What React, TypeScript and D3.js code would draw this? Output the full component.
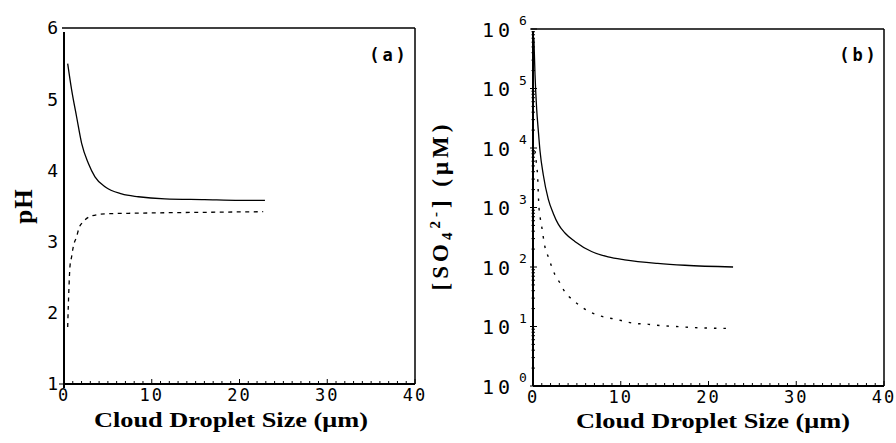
import React from 'react'
import * as d3 from 'd3'

// panel (a): pH vs droplet size
const sizeSolidA = [0.42, 0.87, 1.44, 2.01, 2.77, 3.53, 4.67, 6.57, 8.47, 11.5, 16, 20, 22.9]
const phSolidA = [5.5, 5.13, 4.75, 4.38, 4.1, 3.91, 3.77, 3.67, 3.63, 3.6, 3.59, 3.58, 3.58]
const sizeDashA = [0.42, 0.49, 0.57, 0.68, 0.87, 1.06, 1.44, 1.71, 2.2, 3.15, 4.67, 8.5, 15, 22.7]
const phDashA = [1.8, 2.09, 2.37, 2.65, 2.79, 2.93, 3.07, 3.19, 3.28, 3.36, 3.39, 3.4, 3.41, 3.42]

// panel (b): sulfate concentration (uM) vs droplet size
const sizeSolidB = [0.1, 0.23, 0.42, 0.6, 0.8, 1.17, 1.74, 2.31, 2.88, 3.64, 4.77, 6.67, 8.56, 10.45, 14.2, 17.3, 22.8]
const so4SolidB = [708000, 170000, 44700, 20000, 8900, 3550, 1380, 794, 525, 372, 269, 182, 148, 132, 115, 107, 100]
const sizeDashB = [0.23, 0.42, 0.53, 0.6, 0.68, 0.8, 0.99, 1.36, 1.74, 2.5, 3.07, 3.64, 4.4, 5.34, 6.28, 7.23, 8.37, 9.5, 10.6, 11.8, 12.9, 14.05, 16.3, 19, 22.1]
const so4DashB = [8900, 4900, 3300, 1780, 1000, 708, 479, 219, 148, 74, 54, 38, 29, 22.4, 18.2, 15.8, 14.1, 13.2, 12, 11.2, 11, 10.5, 10, 9.5, 9.3]

const xTicks = [0, 10, 20, 30, 40]
const phTicks = [1, 2, 3, 4, 5, 6]
const logTicks = [0, 1, 2, 3, 4, 5, 6]

const tickFont = '"DejaVu Sans Mono", monospace'
const titleFont = '"Liberation Serif", "Times New Roman", serif'

function BottomAxis({ x, y0 }: { x: d3.ScaleLinear<number, number>; y0: number }) {
  const minor = d3.range(0, 41, 1)
  return (
    <g>
      <line x1={x(0)} x2={x(40)} y1={y0} y2={y0} stroke="#000" strokeWidth={2} />
      {minor.map(v => (
        <line key={v} x1={x(v)} x2={x(v)} y1={y0} y2={y0 - (v % 10 === 0 ? 5 : 3)} stroke="#000" strokeWidth={1} />
      ))}
      {xTicks.map(v => (
        <text key={v} x={x(v)} y={y0 + 17} textAnchor="middle" fontFamily={tickFont} fontSize={17} letterSpacing={2}>
          {v}
        </text>
      ))}
    </g>
  )
}

export default function App() {
  const xa = d3.scaleLinear().domain([0, 40]).range([64, 415])
  const ya = d3.scaleLinear().domain([1, 6]).range([384, 28])
  const xb = d3.scaleLinear().domain([0, 40]).range([533, 884])
  const yb = d3.scaleLog().domain([1, 1e6]).range([386, 29])

  const lineA = d3.line<[number, number]>().x(d => xa(d[0])).y(d => ya(d[1])).curve(d3.curveMonotoneX)
  const lineB = d3.line<[number, number]>().x(d => xb(d[0])).y(d => yb(d[1])).curve(d3.curveMonotoneX)

  const solidA = d3.zip(sizeSolidA, phSolidA) as [number, number][]
  const dashA = d3.zip(sizeDashA, phDashA) as [number, number][]
  const solidB = d3.zip(sizeSolidB, so4SolidB) as [number, number][]
  const dashB = d3.zip(sizeDashB, so4DashB) as [number, number][]

  const logMinor: number[] = []
  for (let e = 0; e < 6; e++) for (let m = 2; m < 10; m++) logMinor.push(m * Math.pow(10, e))

  return (
    <svg width={896} height={443} style={{ position: 'absolute', left: 0, top: 0, background: '#fff' }}>
      {/* panel a */}
      <g>
        <line x1={62} x2={xa(40)} y1={ya(6)} y2={ya(6)} stroke="#000" strokeWidth={1.5} />
        <line x1={xa(40)} x2={xa(40)} y1={ya(6)} y2={ya(1)} stroke="#000" strokeWidth={1.5} />
        <line x1={xa(0)} x2={xa(0)} y1={ya(6) + 4} y2={ya(1) + 4} stroke="#000" strokeWidth={2} />
        <BottomAxis x={xa} y0={ya(1)} />
        <line x1={xa(0) - 5} x2={xa(0)} y1={ya(1)} y2={ya(1)} stroke="#000" strokeWidth={1} />
        {phTicks.map(v => (
          <text key={v} x={xa(0) - 6} y={ya(v)} dy="0.36em" textAnchor="end" fontFamily={tickFont} fontSize={18}>
            {v}
          </text>
        ))}
        <path d={lineA(solidA) || ''} fill="none" stroke="#000" strokeWidth={1.3} />
        <path d={lineA(dashA) || ''} fill="none" stroke="#000" strokeWidth={1.3} strokeDasharray="4,4.5" />
        <text x={389} y={61} textAnchor="middle" fontFamily={tickFont} fontWeight="bold" fontSize={17} letterSpacing={3}>
          (a)
        </text>
        <text
          transform={`translate(32,${(ya(1) + ya(6)) / 2}) rotate(-90)`}
          textAnchor="middle"
          fontFamily={titleFont}
          fontWeight="bold"
          fontSize={25}
          letterSpacing={1}
        >
          pH
        </text>
        <text x={231} y={427} textAnchor="middle" fontFamily={titleFont} fontWeight="bold" fontSize={21} textLength={274} lengthAdjust="spacingAndGlyphs">
          Cloud Droplet Size (μm)
        </text>
      </g>

      {/* panel b */}
      <g>
        <line x1={531} x2={xb(40)} y1={yb(1e6)} y2={yb(1e6)} stroke="#000" strokeWidth={1.5} />
        <line x1={xb(40)} x2={xb(40)} y1={yb(1e6)} y2={yb(1)} stroke="#000" strokeWidth={1.5} />
        <line x1={xb(0)} x2={xb(0)} y1={yb(1e6) + 2} y2={yb(1)} stroke="#000" strokeWidth={2} />
        <BottomAxis x={xb} y0={yb(1)} />
        {logMinor.map(v => (
          <line key={v} x1={xb(0) - 1.5} x2={xb(0) + 2} y1={yb(v)} y2={yb(v)} stroke="#000" strokeWidth={1} />
        ))}
        {logTicks.map(e => (
          <g key={e}>
            <line x1={xb(0) - 3} x2={xb(0) + 4} y1={yb(Math.pow(10, e))} y2={yb(Math.pow(10, e))} stroke="#000" strokeWidth={1} />
            <text x={482} y={yb(Math.pow(10, e))} dy="0.38em" textAnchor="start" fontFamily={tickFont} fontSize={20} letterSpacing={4}>
              10
            </text>
            <text x={519} y={yb(Math.pow(10, e)) - 4} textAnchor="start" fontFamily={tickFont} fontSize={13}>
              {e}
            </text>
          </g>
        ))}
        <path d={lineB(solidB) || ''} fill="none" stroke="#000" strokeWidth={1.3} />
        <path d={lineB(dashB) || ''} fill="none" stroke="#000" strokeWidth={1.4} strokeDasharray="2.5,7" />
        <text x={859} y={61} textAnchor="middle" fontFamily={tickFont} fontWeight="bold" fontSize={17} letterSpacing={3}>
          (b)
        </text>
        <text
          transform={`translate(448,${(yb(1) + yb(1e6)) / 2 - 2}) rotate(-90)`}
          textAnchor="middle"
          fontFamily={titleFont}
          fontWeight="bold"
          fontSize={23}
          letterSpacing={4}
        >
          [SO
          <tspan fontSize={15} dy={4}>4</tspan>
          <tspan fontSize={15} dy={-12}>2-</tspan>
          <tspan dy={8}>] (μM)</tspan>
        </text>
        <text x={713} y={428} textAnchor="middle" fontFamily={titleFont} fontWeight="bold" fontSize={21} textLength={274} lengthAdjust="spacingAndGlyphs">
          Cloud Droplet Size (μm)
        </text>
      </g>
    </svg>
  )
}
